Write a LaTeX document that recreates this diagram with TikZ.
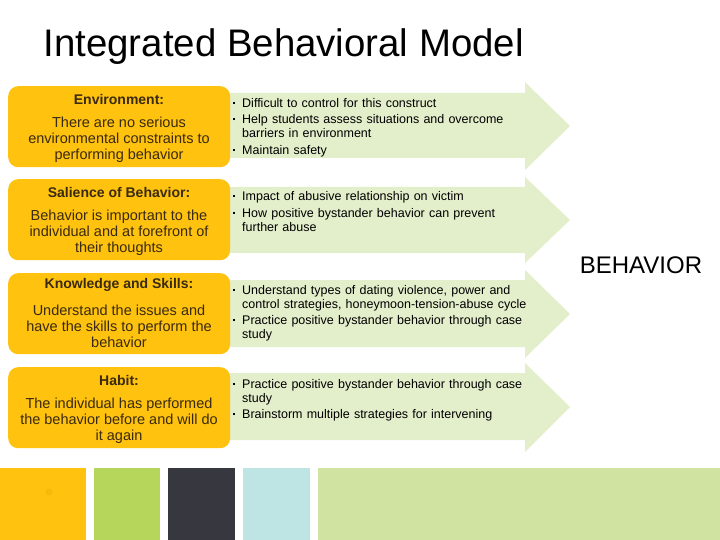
\documentclass[tikz,border=0pt]{standalone}
\usepackage{fontspec}
\setmainfont{Liberation Sans}
\definecolor{orangebox}{HTML}{FEC20F}
\definecolor{arrowgreen}{HTML}{E3EECB}
\definecolor{boxtext}{HTML}{3A2A10}
\definecolor{sqgreen}{HTML}{B6D65B}
\definecolor{sqdark}{HTML}{37373F}
\definecolor{sqblue}{HTML}{BFE4E4}
\definecolor{sqpale}{HTML}{D0E3A0}
\definecolor{dotcol}{HTML}{F6B90C}
\newcommand\bul[1]{\noindent\hangindent=9pt\hangafter=1\makebox[9pt][l]{\rule[3.3pt]{2.2pt}{2.2pt}}#1\par}
\begin{document}
\begin{tikzpicture}[x=1pt,y=-1pt,
  obox/.style={fill=orangebox,rounded corners=10pt,minimum width=222pt,minimum height=81pt,inner sep=0pt,anchor=north west},
  heading/.style={font=\fontsize{14}{16}\selectfont\bfseries,text=boxtext},
  bodytext/.style={font=\fontsize{14.5}{16}\selectfont,text=boxtext,align=center},
  bullets/.style={font=\fontsize{12.5}{14}\selectfont,text=black,anchor=north west,inner sep=0pt,text width=320pt},
  garrow/.style={fill=arrowgreen},
  sq/.style={anchor=north west,inner sep=0pt,minimum height=72pt}
]
\useasboundingbox (0,0) rectangle (720,540);
\node[font=\fontsize{38.4}{40}\selectfont,anchor=west] (title) at (40,47) {Integrated Behavioral Model};

% arrows
\newcommand\greenarrow[5]{% top body, bottom body, head top, head bottom, tip y
  \fill[garrow] (230,#1) -- (525,#1) -- (525,#3) -- (570,#5) -- (525,#4) -- (525,#2) -- (230,#2) -- cycle;}
\greenarrow{93}{158}{82}{170}{126}
\greenarrow{187}{253}{177}{263}{220}
\greenarrow{280}{347}{270}{358}{314}
\greenarrow{373}{440}{363}{452}{407}

% orange boxes
\node[obox] (b1) at (8,86) {};
\node[obox] (b2) at (8,179) {};
\node[obox] (b3) at (8,273) {};
\node[obox] (b4) at (8,367) {};

\node[heading] (h1) at (119,99) {Environment:};
\node[bodytext,anchor=north] (t1) at (119,113) {There are no serious\\environmental constraints to\\performing behavior};
\node[heading] (h2) at (119,192) {Salience of Behavior:};
\node[bodytext,anchor=north] (t2) at (119,206) {Behavior is important to the\\individual and at forefront of\\their thoughts};
\node[heading] (h3) at (119,285) {Knowledge and Skills:};
\node[bodytext,anchor=north] (t3) at (119,301) {Understand the issues and\\have the skills to perform the\\behavior};
\node[heading] (h4) at (119,380) {Habit:};
\node[bodytext,anchor=north] (t4) at (119,394) {The individual has performed\\the behavior before and will do\\it again};

% bullet texts
\node[bullets] (l1) at (233,98) {\parskip=2.5pt
\bul{Difficult to control for this construct}
\bul{Help students assess situations and overcome\newline barriers in environment}
\bul{Maintain safety}};
\node[bullets] (l2) at (233,191.5) {\parskip=2.5pt
\bul{Impact of abusive relationship on victim}
\bul{How positive bystander behavior can prevent\newline further abuse}};
\node[bullets] (l3) at (233,285) {\parskip=2.5pt
\bul{Understand types of dating violence, power and\newline control strategies, honeymoon-tension-abuse cycle}
\bul{Practice positive bystander behavior through case\newline study}};
\node[bullets] (l4) at (233,379) {\parskip=2.5pt
\bul{Practice positive bystander behavior through case\newline study}
\bul{Brainstorm multiple strategies for intervening}};

\node[font=\fontsize{24}{26}\selectfont] (beh) at (641,265) {BEHAVIOR};

% bottom squares
\node[sq,fill=orangebox,minimum width=86pt] (s1) at (0,468) {};
\fill[dotcol] (49,492) circle (3.5pt);
\node[sq,fill=sqgreen,minimum width=66pt] (s2) at (94,468) {};
\node[sq,fill=sqdark,minimum width=67pt] (s3) at (168,468) {};
\node[sq,fill=sqblue,minimum width=67pt] (s4) at (243,468) {};
\node[sq,fill=sqpale,minimum width=402pt] (s5) at (318,468) {};
\end{tikzpicture}
\end{document}
